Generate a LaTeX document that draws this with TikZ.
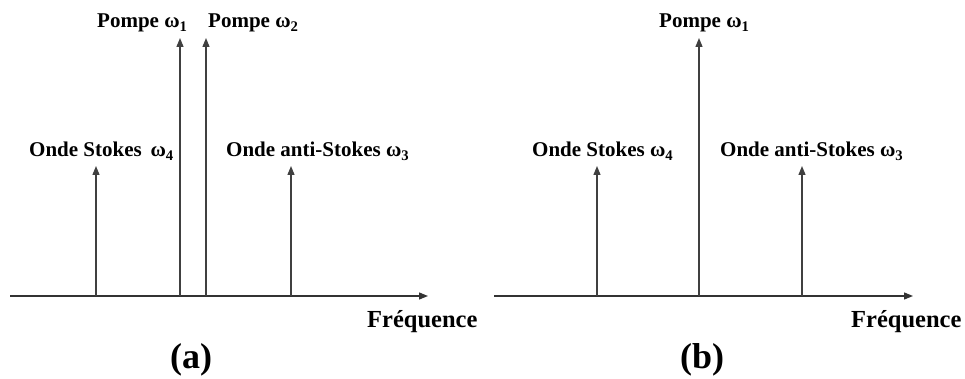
\documentclass[tikz,border=0pt]{standalone}
\usepackage{fontspec}
\setmainfont{Liberation Serif}
\usetikzlibrary{arrows.meta}
\tikzset{
  axis/.style={line width=1.3pt, draw=black!80, -{Triangle[length=9pt,width=7pt]}},
  ray/.style={line width=1.3pt, draw=black!75, -{Triangle[length=9pt,width=7pt]}},
  lbl/.style={inner sep=0pt, anchor=base west, font=\fontsize{21}{24}\selectfont\bfseries},
  axlbl/.style={inner sep=0pt, anchor=base west, font=\fontsize{24.5}{27}\selectfont\bfseries},
  panellbl/.style={inner sep=0pt, anchor=base west, font=\fontsize{36}{40}\selectfont\bfseries}
}
\newcommand{\om}[1]{ω\textsubscript{#1}}
\begin{document}
\begin{tikzpicture}[x=1pt,y=-1pt]
\useasboundingbox (0,0) rectangle (965,379);

% ---------- panel (a): two pumps ----------
\coordinate (a0) at (10,296);
\coordinate (a1) at (428,296);
\coordinate (aS0) at (96,296);  \coordinate (aS) at (96,166);
\coordinate (aP10) at (180,296); \coordinate (aP1) at (180,38);
\coordinate (aP20) at (206,296); \coordinate (aP2) at (206,38);
\coordinate (aA0) at (291,296); \coordinate (aA) at (291,166);
\draw[axis] (a0) -- (a1);
\draw[ray] (aS0) -- (aS);
\draw[ray] (aP10) -- (aP1);
\draw[ray] (aP20) -- (aP2);
\draw[ray] (aA0) -- (aA);
\node[lbl] (aPl1) at (97,28) {Pompe \om{1}};
\node[lbl] (aPl2) at (208,28) {Pompe \om{2}};
\node[lbl] (aSl) at (29,157) {Onde Stokes\, \om{4}};
\node[lbl] (aAl) at (226,157) {Onde anti-Stokes \om{3}};
\node[axlbl] (aF) at (367,327) {Fréquence};
\node[panellbl] (aC) at (170,368) {(a)};

% ---------- panel (b): degenerate pump ----------
\coordinate (b0) at (494,296);
\coordinate (b1) at (913,296);
\coordinate (bS0) at (597,296);  \coordinate (bS) at (597,166);
\coordinate (bP0) at (699,296);  \coordinate (bP) at (699,38);
\coordinate (bA0) at (802,296); \coordinate (bA) at (802,166);
\draw[axis] (b0) -- (b1);
\draw[ray] (bS0) -- (bS);
\draw[ray] (bP0) -- (bP);
\draw[ray] (bA0) -- (bA);
\node[lbl] (bPl) at (659,28) {Pompe \om{1}};
\node[lbl] (bSl) at (532,157) {Onde Stokes \om{4}};
\node[lbl] (bAl) at (720,157) {Onde anti-Stokes \om{3}};
\node[axlbl] (bF) at (851,327) {Fréquence};
\node[panellbl] (bC) at (680,368) {(b)};
\end{tikzpicture}
\end{document}
